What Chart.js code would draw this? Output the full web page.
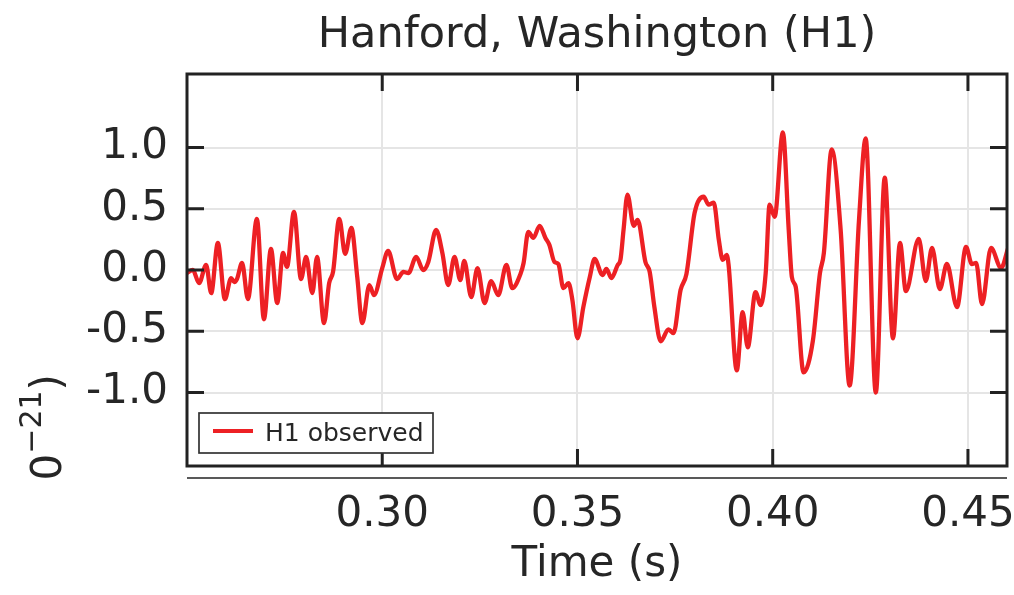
<!DOCTYPE html>
<html>
<head>
<meta charset="utf-8">
<title>Hanford, Washington (H1)</title>
<script src="https://cdn.jsdelivr.net/npm/chart.js@4.4.1/dist/chart.umd.min.js"></script>
<style>
  html, body { margin: 0; padding: 0; background: #ffffff; }
  #wrap { width: 1014px; height: 595px; }
</style>
</head>
<body>
<div id="wrap"><canvas id="strainChart" width="1014" height="595"></canvas></div>
<script>
// Time samples (s)
const times = [0.2500,0.2515,0.2531,0.2549,0.2562,0.2579,0.2597,0.2613,0.2621,0.2628,0.2641,0.2656,0.2679,0.2697,0.2715,0.2731,0.2746,0.2756,0.2774,0.2792,0.2805,0.2821,0.2833,0.2851,0.2864,0.2874,0.2890,0.2905,0.2921,0.2936,0.2949,0.2967,0.2979,0.3000,0.3015,0.3038,0.3054,0.3067,0.3087,0.3105,0.3118,0.3138,0.3154,0.3169,0.3185,0.3200,0.3210,0.3228,0.3244,0.3262,0.3279,0.3297,0.3318,0.3333,0.3354,0.3362,0.3374,0.3387,0.3403,0.3418,0.3428,0.3441,0.3451,0.3464,0.3477,0.3487,0.3500,0.3515,0.3531,0.3544,0.3564,0.3574,0.3587,0.3603,0.3610,0.3618,0.3628,0.3644,0.3654,0.3674,0.3685,0.3697,0.3713,0.3733,0.3746,0.3764,0.3779,0.3800,0.3823,0.3836,0.3849,0.3862,0.3872,0.3882,0.3887,0.3908,0.3923,0.3936,0.3956,0.3969,0.3982,0.3992,0.4005,0.4026,0.4041,0.4049,0.4059,0.4079,0.4103,0.4121,0.4131,0.4151,0.4174,0.4197,0.4221,0.4238,0.4264,0.4287,0.4308,0.4326,0.4341,0.4374,0.4392,0.4408,0.4428,0.4446,0.4472,0.4495,0.4510,0.4521,0.4536,0.4559,0.4585,0.4603];

// H1 observed strain (x 10^-21)
const h1Strain = [-0.025,0.0,-0.107,0.041,-0.189,0.221,-0.238,-0.066,-0.098,-0.074,0.057,-0.238,0.418,-0.402,0.172,-0.270,0.139,0.025,0.475,-0.074,0.107,-0.189,0.107,-0.434,-0.107,-0.016,0.418,0.131,0.344,-0.057,-0.434,-0.123,-0.205,0.016,0.156,-0.074,-0.016,-0.025,0.107,0.0,0.066,0.328,0.139,-0.123,0.107,-0.082,0.074,-0.221,0.016,-0.270,-0.090,-0.205,0.041,-0.148,-0.033,0.057,0.311,0.262,0.361,0.262,0.205,0.066,0.049,-0.148,-0.107,-0.246,-0.557,-0.303,-0.066,0.090,-0.041,0.008,-0.066,0.041,0.082,0.328,0.615,0.361,0.410,0.066,-0.016,-0.303,-0.582,-0.484,-0.516,-0.164,-0.033,0.467,0.598,0.533,0.549,0.246,0.082,0.123,0.041,-0.820,-0.344,-0.631,-0.180,-0.287,-0.025,0.533,0.434,1.123,0.328,-0.057,-0.139,-0.836,-0.574,-0.025,0.139,0.984,0.328,-0.943,0.410,1.074,-1.000,0.754,-0.557,0.221,-0.172,0.254,-0.090,0.180,-0.156,0.049,-0.303,0.189,0.049,0.057,-0.279,0.180,0.016,0.180];

// Tick values
const xTicks = [0.30, 0.35, 0.40, 0.45];
const yTicks = [-1.0, -0.5, 0.0, 0.5, 1.0];

const seriesLabel = 'H1 observed';
const lineColor = '#ed2024';
const inkColor = '#262626';
const fontFamily = '"DejaVu Sans", "Liberation Sans", sans-serif';

// Frame, inward ticks, boxed legend and the clipped y label (matplotlib look)
const matplotlibDecor = {
    id: 'matplotlibDecor',
    afterDatasetsDraw(chart) {
        const { ctx, chartArea: a, scales: { x, y } } = chart;
        ctx.save();

        // inward tick marks on all four sides
        ctx.strokeStyle = '#222222';
        ctx.lineWidth = 3;
        ctx.beginPath();
        yTicks.forEach(v => {
            const py = y.getPixelForValue(v);
            ctx.moveTo(a.left, py); ctx.lineTo(a.left + 17, py);
            ctx.moveTo(a.right, py); ctx.lineTo(a.right - 17, py);
        });
        xTicks.forEach(v => {
            const px = x.getPixelForValue(v);
            ctx.moveTo(px, a.top); ctx.lineTo(px, a.top + 17);
            ctx.moveTo(px, a.bottom); ctx.lineTo(px, a.bottom - 17);
        });
        ctx.stroke();

        // axes frame
        ctx.strokeRect(a.left, a.top, a.right - a.left, a.bottom - a.top);

        // thin separator line under the axes
        ctx.lineWidth = 1.5;
        ctx.beginPath();
        ctx.moveTo(a.left, a.bottom + 12);
        ctx.lineTo(a.right, a.bottom + 12);
        ctx.stroke();

        // legend box in the lower left corner
        const lx = a.left + 12, ly = a.bottom - 53, lw = 234, lh = 40;
        ctx.fillStyle = '#ffffff';
        ctx.fillRect(lx, ly, lw, lh);
        ctx.strokeStyle = '#333333';
        ctx.lineWidth = 1.7;
        ctx.strokeRect(lx, ly, lw, lh);
        ctx.strokeStyle = lineColor;
        ctx.lineWidth = 4;
        ctx.beginPath();
        ctx.moveTo(lx + 14, ly + 18);
        ctx.lineTo(lx + 54, ly + 18);
        ctx.stroke();
        ctx.fillStyle = inkColor;
        ctx.font = '25px ' + fontFamily;
        ctx.textAlign = 'left';
        ctx.textBaseline = 'alphabetic';
        ctx.fillText(seriesLabel, lx + 66, ly + 28);

        // y axis label, cut off at the bottom like the source figure
        ctx.beginPath();
        ctx.rect(0, 0, a.left, a.bottom + 12);
        ctx.clip();
        ctx.translate(61, 374);
        ctx.rotate(-Math.PI / 2);
        ctx.textAlign = 'right';
        ctx.font = '42px ' + fontFamily;
        ctx.fillText(')', 0, 0);
        const w1 = ctx.measureText(')').width;
        ctx.font = '30px ' + fontFamily;
        ctx.fillText('\u221221', -w1, -20);
        const w2 = ctx.measureText('\u221221').width;
        ctx.font = '42px ' + fontFamily;
        ctx.fillText('Strain (10', -w1 - w2, 0);

        ctx.restore();
    }
};

function drawStrainChart() {
    const ctx = document.getElementById('strainChart').getContext('2d');
    new Chart(ctx, {
        type: 'line',
        data: {
            datasets: [{
                label: seriesLabel,
                data: times.map((t, i) => ({ x: t, y: h1Strain[i] })),
                borderColor: lineColor,
                borderWidth: 4.3,
                pointRadius: 0,
                cubicInterpolationMode: 'monotone',
                fill: false,
                clip: 0
            }]
        },
        options: {
            responsive: false,
            animation: false,
            layout: { padding: { left: 0, right: 7, top: 0, bottom: 0 } },
            plugins: {
                legend: { display: false },
                tooltip: { enabled: false },
                title: {
                    display: true,
                    text: 'Hanford, Washington (H1)',
                    fullSize: false,
                    color: inkColor,
                    font: { family: fontFamily, size: 43, weight: 'normal' },
                    padding: { top: 10, bottom: 12.4 }
                }
            },
            scales: {
                x: {
                    type: 'linear',
                    min: 0.25,
                    max: 0.46,
                    afterBuildTicks: scale => { scale.ticks = xTicks.map(v => ({ value: v })); },
                    afterFit: scale => {
                        scale.height = 129;
                        scale.paddingLeft = 0; scale.paddingRight = 0;
                        scale.paddingTop = 0; scale.paddingBottom = 0;
                    },
                    grid: { color: '#e5e5e5', lineWidth: 2, drawTicks: false },
                    border: { display: false },
                    ticks: {
                        color: inkColor,
                        padding: 24,
                        maxRotation: 0,
                        font: { family: fontFamily, size: 42 },
                        callback: v => v.toFixed(2)
                    },
                    title: {
                        display: true,
                        text: 'Time (s)',
                        color: inkColor,
                        font: { family: fontFamily, size: 42 },
                        padding: { top: 0, bottom: 5 }
                    }
                },
                y: {
                    min: -1.6,
                    max: 1.6,
                    afterBuildTicks: scale => { scale.ticks = yTicks.map(v => ({ value: v })); },
                    afterFit: scale => {
                        scale.width = 187;
                        scale.paddingLeft = 0; scale.paddingRight = 0;
                        scale.paddingTop = 0; scale.paddingBottom = 0;
                    },
                    grid: { color: '#e5e5e5', lineWidth: 2, drawTicks: false },
                    border: { display: false },
                    ticks: {
                        color: inkColor,
                        padding: 19,
                        font: { family: fontFamily, size: 42 },
                        callback: v => v.toFixed(1)
                    }
                }
            }
        },
        plugins: [matplotlibDecor]
    });
}

document.addEventListener('DOMContentLoaded', drawStrainChart);
</script>
</body>
</html>
